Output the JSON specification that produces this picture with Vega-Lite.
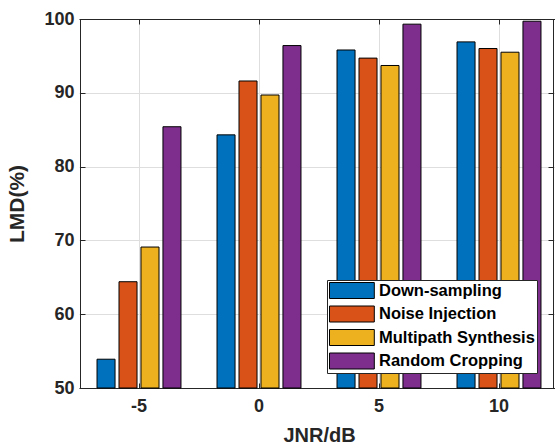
{
  "$schema": "https://vega.github.io/schema/vega-lite/v6.json",
  "width": 473,
  "height": 369,
  "autosize": {"type": "none"},
  "padding": {"left": 80, "top": 19, "right": 2, "bottom": 57},
  "background": "white",
  "config": {
    "view": {"stroke": "#262626", "strokeWidth": 1},
    "font": "Liberation Sans",
    "axis": {
      "labelFont": "Liberation Sans",
      "labelFontWeight": "bold",
      "labelColor": "#262626",
      "titleFont": "Liberation Sans",
      "titleFontWeight": "bold",
      "titleColor": "#262626",
      "domainColor": "#262626",
      "tickColor": "#262626",
      "gridColor": "#dedede",
      "gridWidth": 1
    }
  },
  "data": {
    "values": [
      {"jnr": "-5", "method": "Down-sampling", "lmd": 53.9},
      {"jnr": "-5", "method": "Noise Injection", "lmd": 64.4},
      {"jnr": "-5", "method": "Multipath Synthesis", "lmd": 69.1},
      {"jnr": "-5", "method": "Random Cropping", "lmd": 85.4},
      {"jnr": "0", "method": "Down-sampling", "lmd": 84.3},
      {"jnr": "0", "method": "Noise Injection", "lmd": 91.6},
      {"jnr": "0", "method": "Multipath Synthesis", "lmd": 89.7},
      {"jnr": "0", "method": "Random Cropping", "lmd": 96.4},
      {"jnr": "5", "method": "Down-sampling", "lmd": 95.8},
      {"jnr": "5", "method": "Noise Injection", "lmd": 94.7},
      {"jnr": "5", "method": "Multipath Synthesis", "lmd": 93.7},
      {"jnr": "5", "method": "Random Cropping", "lmd": 99.3},
      {"jnr": "10", "method": "Down-sampling", "lmd": 96.9},
      {"jnr": "10", "method": "Noise Injection", "lmd": 96.0},
      {"jnr": "10", "method": "Multipath Synthesis", "lmd": 95.5},
      {"jnr": "10", "method": "Random Cropping", "lmd": 99.7}
    ]
  },
  "encoding": {
    "xOffset": {
      "field": "method",
      "type": "nominal",
      "sort": ["Down-sampling", "Noise Injection", "Multipath Synthesis", "Random Cropping"],
      "scale": {"paddingInner": 0.18, "paddingOuter": 0.82}
    },
    "y2": {"datum": 50},
    "color": {
      "field": "method",
      "type": "nominal",
      "scale": {
        "domain": ["Down-sampling", "Noise Injection", "Multipath Synthesis", "Random Cropping"],
        "range": ["#0072BD", "#D95319", "#EDB120", "#7E2F8E"]
      },
      "legend": {
        "title": null,
        "orient": "none",
        "legendX": 247,
        "legendY": 261,
        "fillColor": "white",
        "strokeColor": "#262626",
        "padding": 2,
        "symbolType": "M-1,-1H4.6V1H-1Z",
        "symbolSize": 256,
        "symbolStrokeColor": "black",
        "symbolStrokeWidth": 1,
        "symbolOpacity": 1,
        "labelFont": "Liberation Sans",
        "labelFontWeight": "bold",
        "labelFontSize": 16.5,
        "labelColor": "black",
        "labelOffset": 33,
        "rowPadding": 2.5
      }
    }
  },
  "layer": [
    {
      "mark": {"type": "bar", "stroke": "black", "strokeWidth": 1, "opacity": 1},
      "encoding": {
        "x": {
          "field": "jnr",
          "type": "nominal",
          "sort": ["-5", "0", "5", "10"],
          "scale": {"range": [-1, 479], "paddingInner": 0, "paddingOuter": 0},
          "axis": {
            "title": "JNR/dB",
            "titleFontSize": 20,
            "titlePadding": 10,
            "labelFontSize": 18,
            "labelAngle": 0,
            "labelPadding": 14,
            "bandPosition": 0.5,
            "grid": true,
            "tickSize": -5
          }
        },
        "y": {
          "field": "lmd",
          "type": "quantitative",
          "scale": {"domain": [50, 100], "zero": false, "nice": false},
          "axis": {
            "title": "LMD(%)",
            "titleFontSize": 21,
            "titlePadding": 16,
            "labelFontSize": 18,
            "labelPadding": 11,
            "values": [50, 60, 70, 80, 90, 100],
            "grid": true,
            "tickSize": -5
          }
        }
      }
    },
    {
      "mark": {"type": "bar", "opacity": 0},
      "encoding": {
        "x": {
          "field": "jnr",
          "type": "nominal",
          "sort": ["-5", "0", "5", "10"],
          "axis": {
            "orient": "top",
            "title": null,
            "labels": false,
            "grid": false,
            "bandPosition": 0.5,
            "tickSize": -5
          }
        },
        "y": {
          "field": "lmd",
          "type": "quantitative",
          "axis": {
            "orient": "right",
            "title": null,
            "labels": false,
            "grid": false,
            "values": [50, 60, 70, 80, 90, 100],
            "tickSize": -5
          }
        }
      }
    }
  ],
  "resolve": {"axis": {"x": "independent", "y": "independent"}}
}
